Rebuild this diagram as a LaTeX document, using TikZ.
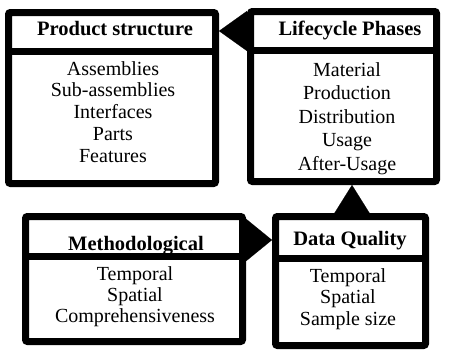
\documentclass[tikz,border=0pt]{standalone}
\usepackage{fontspec}
\setmainfont{Liberation Serif}
\usetikzlibrary{arrows.meta}

\tikzset{
  panel/.style={draw=black, fill=white, line width=7pt, rounded corners=2pt,
    inner sep=0pt},
  divider/.style={line width=7pt, line cap=butt},
  title/.style={anchor=base, inner sep=0pt, font=\fontsize{20.5}{22}\selectfont\bfseries},
  items/.style={anchor=base, inner sep=0pt, align=center,
    font=\fontsize{20}{#1}\selectfont},
  link/.style={line width=0.1pt},
}

\begin{document}
\begin{tikzpicture}[x=1pt, y=-1pt]
  \useasboundingbox (0,0) rectangle (451,356);

  % frames
  \node[panel, minimum width=207pt, minimum height=171pt] (prod) at (112,98) {};
  \node[panel, minimum width=186pt, minimum height=170pt] (life) at (343.5,96.5) {};
  \node[panel, minimum width=217pt, minimum height=125pt] (meth) at (134,279) {};
  \node[panel, minimum width=150pt, minimum height=129pt] (qual) at (350.5,281) {};

  % header dividers
  \coordinate (dprod) at (0,51.5);
  \coordinate (dlife) at (0,50);
  \coordinate (dmeth) at (0,256.5);
  \coordinate (dqual) at (0,258.5);
  \draw[divider] (prod.west |- dprod) -- (prod.east |- dprod);
  \draw[divider] (life.west |- dlife) -- (life.east |- dlife);
  \draw[divider] (meth.west |- dmeth) -- (meth.east |- dmeth);
  \draw[divider] (qual.west |- dqual) -- (qual.east |- dqual);

  % titles
  \node[title] (prodT) at (115,35) {Product structure};
  \node[title] (lifeT) at (350,35) {Lifecycle Phases};
  \node[title] (methT) at (136,250) {Methodological};
  \node[title] (qualT) at (350,245) {Data Quality};

  % contents (anchored at the baseline of the last line)
  \node[items=21.75] (prodL) at (113,162) {Assemblies\\Sub-assemblies\\Interfaces\\Parts\\Features};
  \node[items=23.5] (lifeL) at (347,170) {Material\\Production\\Distribution\\Usage\\After-Usage};
  \node[items=21] (methL) at (135,322) {Temporal\\Spatial\\Comprehensiveness};
  \node[items=21.5] (qualL) at (348,325) {Temporal\\Spatial\\Sample size};

  % connectors
  \coordinate (hA) at (0,31);
  \coordinate (hB) at (0,240);
  \coordinate (vA) at (352,0);
  \draw[link, -{Triangle[length=28pt, width=40pt]}] (life.west |- hA) -- (prod.east |- hA);
  \draw[link, -{Triangle[length=27pt, width=44pt]}] (meth.east |- hB) -- (qual.west |- hB);
  \draw[link, -{Triangle[length=28pt, width=35pt]}] (qual.north -| vA) -- (life.south -| vA);
\end{tikzpicture}
\end{document}
